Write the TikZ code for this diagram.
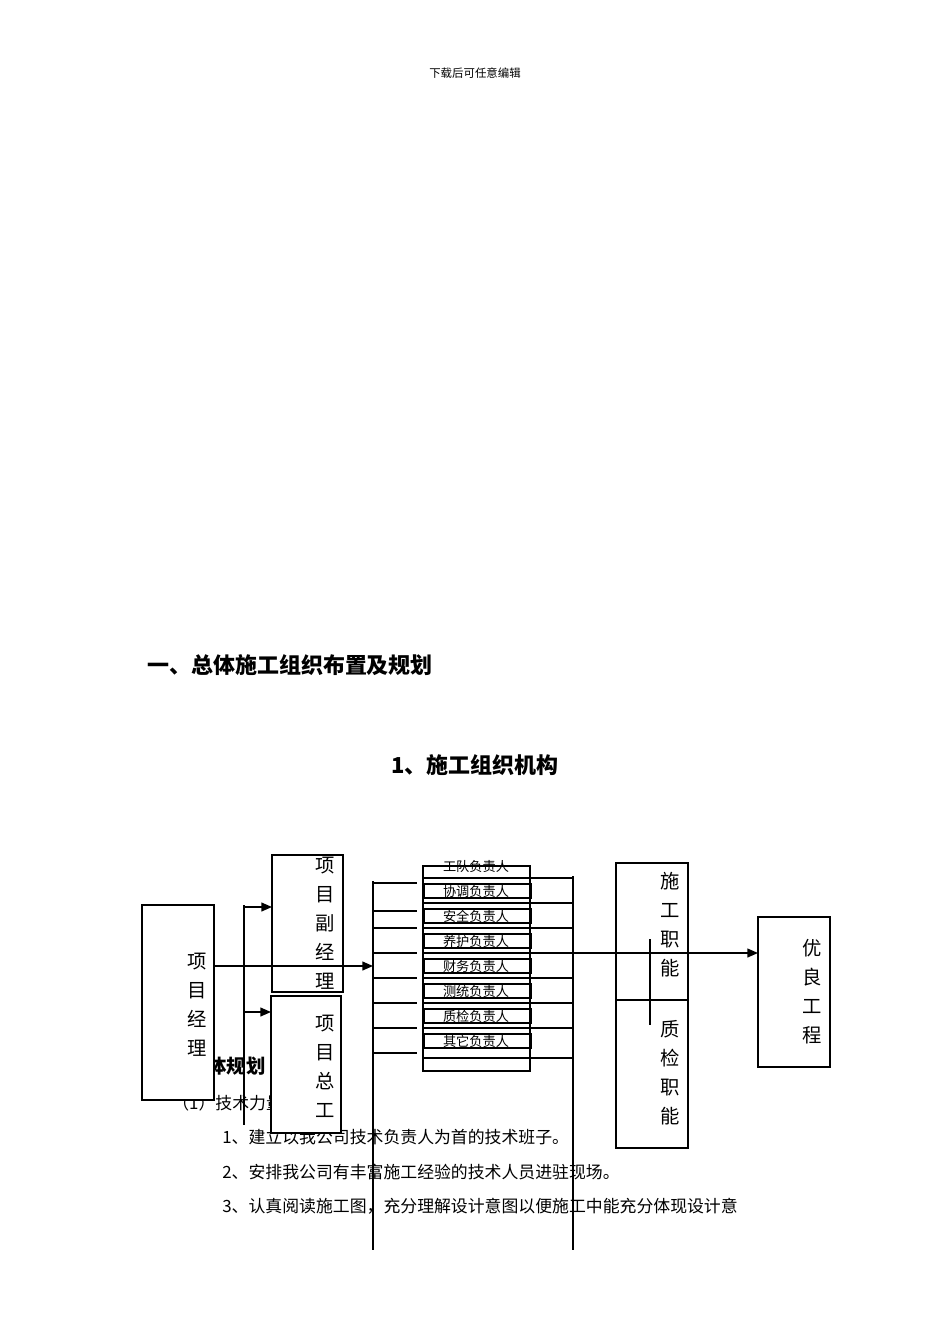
\documentclass[tikz,border=0pt]{standalone}
\usepackage{fontspec}
\newfontfamily\cjk{Noto Sans CJK SC}
\usetikzlibrary{arrows.meta}
\begin{document}
\begin{tikzpicture}[x=0.02cm,y=-0.02cm,
  box/.style={draw,line width=0.8pt,fill=white},
  vtxt/.style={font=\cjk\fontsize{11}{16.5}\selectfont,align=center,inner sep=0},
  row/.style={font=\cjk\fontsize{7.5}{8}\selectfont,inner sep=0},
  body/.style={font=\cjk\fontsize{9.6}{10}\selectfont,anchor=west,inner sep=0},
  ln/.style={line width=0.8pt},
  arr/.style={ln,-{Triangle[length=6pt,width=5pt]}}]
\useasboundingbox (0,0) rectangle (950,1344);
\node[font=\cjk\fontsize{6.5}{7}\selectfont] (hdr) at (475,73) {下载后可任意编辑};
\node[font=\cjk\bfseries\fontsize{12.5}{13}\selectfont,anchor=west,inner sep=0] (t1) at (147,665) {一、总体施工组织布置及规划};
\node[font=\cjk\bfseries\fontsize{12.5}{13}\selectfont] (t2) at (475,765) {1、施工组织机构};
% background text
\node[font=\cjk\bfseries\fontsize{11}{12}\selectfont,anchor=east,inner sep=0] (b0) at (266,1066) {二、总体规划};
\node[body] (b1) at (172,1103) {（1）技术力量};
\node[body] (b2) at (222,1137) {1、建立以我公司技术负责人为首的技术班子。};
\node[body] (b3) at (222,1172) {2、安排我公司有丰富施工经验的技术人员进驻现场。};
\node[body] (b4) at (222,1206) {3、认真阅读施工图，充分理解设计意图以便施工中能充分体现设计意};
% boxes
\draw[box] (142,905) rectangle (214,1100);
\node[vtxt] (pm) at (197,1005) {项\\目\\经\\理};
\draw[box] (272,855) rectangle (343,992);
\node[vtxt] (vpm) at (325,923) {项\\目\\副\\经\\理};
\draw[box] (271,996) rectangle (341,1133);
\node[vtxt] (ce) at (325,1066) {项\\目\\总\\工};
\coordinate (v1a) at (244,905); \coordinate (v1b) at (244,1125);
\draw[ln] (v1a) -- (v1b);
\draw[arr] (244,907) -- (272,907);
\draw[arr] (244,1012) -- (271,1012);
\draw[arr] (214,966) -- (373,966);
% left bus
\draw[ln] (373,881) -- (373,1250);
\foreach \y in {883,911,928,953,978,1003,1028,1053} \draw[ln] (373,\y) -- (417,\y);
% stack
\draw[ln] (423,866) rectangle (530,1071);
\foreach \y in {878,903,928,953,978,1003,1028,1058} \draw[ln] (423,\y) -- (530,\y);
\foreach \y in {891,916,941,966,991,1016,1041} \draw[ln] (424,\y-7) rectangle (531,\y+7);
\node[row] (r1) at (476,866) {工队负责人};
\node[row] (r2) at (476,891) {协调负责人};
\node[row] (r3) at (476,916) {安全负责人};
\node[row] (r4) at (476,941) {养护负责人};
\node[row] (r5) at (476,966) {财务负责人};
\node[row] (r6) at (476,991) {测统负责人};
\node[row] (r7) at (476,1016) {质检负责人};
\node[row] (r8) at (476,1041) {其它负责人};
% right bus
\foreach \y in {878,903,928,978,1003,1028,1058} \draw[ln] (530,\y) -- (573,\y);
\draw[ln] (573,876) -- (573,1250);
% function box
\draw[ln] (616,863) rectangle (688,1148);
\draw[ln] (616,1000) -- (688,1000);
\node[vtxt] (f1) at (670,925) {施\\工\\职\\能};
\node[vtxt] (f2) at (670,1073) {质\\检\\职\\能};
\draw[ln] (650,939) -- (650,1025);
% result
\draw[ln] (758,917) rectangle (830,1067);
\node[vtxt] (res) at (812,992) {优\\良\\工\\程};
\draw[arr] (530,953) -- (758,953);
\end{tikzpicture}
\end{document}
